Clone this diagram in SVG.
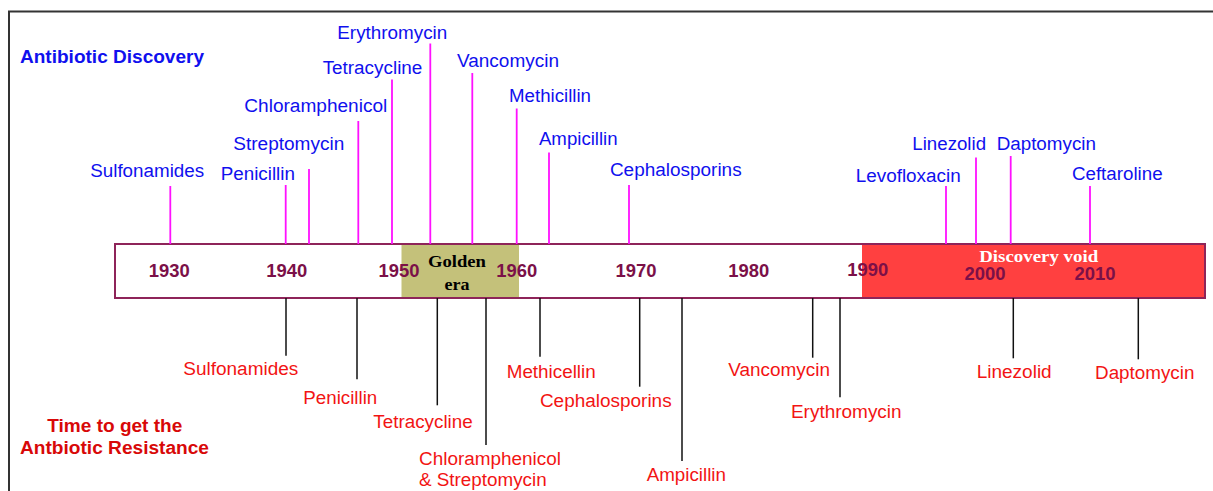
<svg xmlns="http://www.w3.org/2000/svg" width="1213" height="491" viewBox="0 0 1213 491">
<style>
.frame{fill:none;stroke:#333;stroke-width:2}
.bar{fill:none;stroke:#8e2459;stroke-width:2}
.yr{font-family:"Liberation Sans",Arial,sans-serif;font-weight:bold;font-size:17.5px;fill:#7b1048;text-anchor:middle}
.disc{font-family:"Liberation Sans",Arial,sans-serif;font-size:18px;fill:#1010ee;text-anchor:middle}
.res{font-family:"Liberation Sans",Arial,sans-serif;font-size:18px;fill:#f21414;text-anchor:middle}
.title{font-family:"Liberation Sans",Arial,sans-serif;font-weight:bold;font-size:18px}
.era{font-family:"Liberation Serif","Times New Roman",serif;font-weight:bold;font-size:17.5px;text-anchor:middle}
.up{stroke:#ff10ff;stroke-width:1.8}
.down{stroke:#111;stroke-width:1.5}
</style>
<g id="frame">
<line class="frame" x1="8" y1="11.5" x2="1213" y2="11.5"/>
<line class="frame" x1="9" y1="11" x2="9" y2="491"/>
</g>
<g id="timeline">
<rect x="115" y="244" width="1090" height="54" fill="#fff"/>
<rect id="golden-era-band" x="401.5" y="245" width="117.5" height="52" fill="#c4c17a"/>
<rect id="discovery-void-band" x="862" y="245" width="342" height="52" fill="#ff4040"/>
<rect class="bar" x="115" y="244" width="1090" height="54"/>
<text class="era" x="457" y="267" textLength="58" lengthAdjust="spacingAndGlyphs">Golden</text>
<text class="era" x="457" y="290" textLength="25" lengthAdjust="spacingAndGlyphs">era</text>
<text class="era" x="1038.7" y="262" fill="#fff" textLength="119" lengthAdjust="spacingAndGlyphs">Discovery void</text>
<text class="yr" x="169.2" y="276.7" textLength="41" lengthAdjust="spacingAndGlyphs">1930</text>
<text class="yr" x="286.7" y="276.7" textLength="41" lengthAdjust="spacingAndGlyphs">1940</text>
<text class="yr" x="399" y="276.7" textLength="41" lengthAdjust="spacingAndGlyphs">1950</text>
<text class="yr" x="516.7" y="276.7" textLength="41" lengthAdjust="spacingAndGlyphs">1960</text>
<text class="yr" x="636" y="276.7" textLength="41" lengthAdjust="spacingAndGlyphs">1970</text>
<text class="yr" x="748.7" y="276.7" textLength="41" lengthAdjust="spacingAndGlyphs">1980</text>
<text class="yr" x="867.7" y="276.3" textLength="41" lengthAdjust="spacingAndGlyphs">1990</text>
<text class="yr" x="985" y="280" textLength="41" lengthAdjust="spacingAndGlyphs">2000</text>
<text class="yr" x="1095" y="280" textLength="41" lengthAdjust="spacingAndGlyphs">2010</text>
</g>
<g id="connectors">
<line class="up" x1="170.3" y1="186" x2="170.3" y2="244"/>
<line class="up" x1="285.7" y1="185" x2="285.7" y2="244"/>
<line class="up" x1="309" y1="169" x2="309" y2="244"/>
<line class="up" x1="358.3" y1="121" x2="358.3" y2="244"/>
<line class="up" x1="392" y1="79.5" x2="392" y2="244"/>
<line class="up" x1="430.3" y1="43.5" x2="430.3" y2="244"/>
<line class="up" x1="472.3" y1="73" x2="472.3" y2="244"/>
<line class="up" x1="516.7" y1="108.5" x2="516.7" y2="244"/>
<line class="up" x1="549" y1="152.5" x2="549" y2="244"/>
<line class="up" x1="629" y1="185" x2="629" y2="244"/>
<line class="up" x1="946" y1="186" x2="946" y2="244"/>
<line class="up" x1="976" y1="157.5" x2="976" y2="244"/>
<line class="up" x1="1010.7" y1="156" x2="1010.7" y2="244"/>
<line class="up" x1="1090" y1="186" x2="1090" y2="244"/>
<line class="down" x1="286" y1="298" x2="286" y2="355.7"/>
<line class="down" x1="357" y1="298" x2="357" y2="379.3"/>
<line class="down" x1="437.3" y1="298" x2="437.3" y2="405.3"/>
<line class="down" x1="486" y1="298" x2="486" y2="445"/>
<line class="down" x1="540" y1="298" x2="540" y2="356.7"/>
<line class="down" x1="639.7" y1="298" x2="639.7" y2="386.7"/>
<line class="down" x1="682" y1="298" x2="682" y2="461"/>
<line class="down" x1="812.7" y1="298" x2="812.7" y2="357.7"/>
<line class="down" x1="840" y1="298" x2="840" y2="397.3"/>
<line class="down" x1="1013.3" y1="298" x2="1013.3" y2="358.3"/>
<line class="down" x1="1138.3" y1="298" x2="1138.3" y2="359.3"/>
</g>
<g id="title-discovery"><text class="title" x="20" y="63.3" fill="#1010ee" textLength="184" lengthAdjust="spacingAndGlyphs">Antibiotic Discovery</text></g>
<g id="title-resistance">
<text class="title" x="47.3" y="432.3" fill="#d80808" textLength="135" lengthAdjust="spacingAndGlyphs">Time to get the</text>
<text class="title" x="20" y="454.3" fill="#d80808" textLength="189" lengthAdjust="spacingAndGlyphs">Antbiotic Resistance</text>
</g>
<g id="disc-sulfonamides"><text class="disc" x="147.2" y="177" textLength="114" lengthAdjust="spacingAndGlyphs">Sulfonamides</text></g>
<g id="disc-penicillin"><text class="disc" x="257.8" y="180" textLength="74.3" lengthAdjust="spacingAndGlyphs">Penicillin</text></g>
<g id="disc-streptomycin"><text class="disc" x="288.8" y="150" textLength="111" lengthAdjust="spacingAndGlyphs">Streptomycin</text></g>
<g id="disc-chloramphenicol"><text class="disc" x="315.8" y="111.7" textLength="143" lengthAdjust="spacingAndGlyphs">Chloramphenicol</text></g>
<g id="disc-tetracycline"><text class="disc" x="372.5" y="74.3" textLength="99.7" lengthAdjust="spacingAndGlyphs">Tetracycline</text></g>
<g id="disc-erythromycin"><text class="disc" x="392.3" y="39.3" textLength="110" lengthAdjust="spacingAndGlyphs">Erythromycin</text></g>
<g id="disc-vancomycin"><text class="disc" x="508" y="66.7" textLength="102" lengthAdjust="spacingAndGlyphs">Vancomycin</text></g>
<g id="disc-methicillin"><text class="disc" x="550" y="102.3" textLength="82" lengthAdjust="spacingAndGlyphs">Methicillin</text></g>
<g id="disc-ampicillin"><text class="disc" x="578.3" y="145" textLength="78.7" lengthAdjust="spacingAndGlyphs">Ampicillin</text></g>
<g id="disc-cephalosporins"><text class="disc" x="675.8" y="175.7" textLength="131.7" lengthAdjust="spacingAndGlyphs">Cephalosporins</text></g>
<g id="disc-levofloxacin"><text class="disc" x="908.2" y="182.3" textLength="105" lengthAdjust="spacingAndGlyphs">Levofloxacin</text></g>
<g id="disc-linezolid"><text class="disc" x="949.2" y="150" textLength="73.7" lengthAdjust="spacingAndGlyphs">Linezolid</text></g>
<g id="disc-daptomycin"><text class="disc" x="1046.3" y="150" textLength="99.3" lengthAdjust="spacingAndGlyphs">Daptomycin</text></g>
<g id="disc-ceftaroline"><text class="disc" x="1117.3" y="180" textLength="90.7" lengthAdjust="spacingAndGlyphs">Ceftaroline</text></g>
<g id="res-sulfonamides"><text class="res" x="240.8" y="375" textLength="115" lengthAdjust="spacingAndGlyphs">Sulfonamides</text></g>
<g id="res-penicillin"><text class="res" x="340.3" y="404" textLength="74" lengthAdjust="spacingAndGlyphs">Penicillin</text></g>
<g id="res-tetracycline"><text class="res" x="423" y="427.7" textLength="99.4" lengthAdjust="spacingAndGlyphs">Tetracycline</text></g>
<g id="res-chloramphenicol-streptomycin">
<text class="res" x="419" y="465" style="text-anchor:start" textLength="142" lengthAdjust="spacingAndGlyphs">Chloramphenicol</text>
<text class="res" x="419" y="486" style="text-anchor:start" textLength="127.7" lengthAdjust="spacingAndGlyphs">&amp; Streptomycin</text>
</g>
<g id="res-methicellin"><text class="res" x="551.2" y="377.7" textLength="89" lengthAdjust="spacingAndGlyphs">Methicellin</text></g>
<g id="res-cephalosporins"><text class="res" x="605.8" y="407.3" textLength="131.7" lengthAdjust="spacingAndGlyphs">Cephalosporins</text></g>
<g id="res-ampicillin"><text class="res" x="686.3" y="481" textLength="79.3" lengthAdjust="spacingAndGlyphs">Ampicillin</text></g>
<g id="res-vancomycin"><text class="res" x="779.2" y="376" textLength="101.7" lengthAdjust="spacingAndGlyphs">Vancomycin</text></g>
<g id="res-erythromycin"><text class="res" x="846.3" y="418.3" textLength="110.7" lengthAdjust="spacingAndGlyphs">Erythromycin</text></g>
<g id="res-linezolid"><text class="res" x="1014.2" y="377.7" textLength="75" lengthAdjust="spacingAndGlyphs">Linezolid</text></g>
<g id="res-daptomycin"><text class="res" x="1144.7" y="379.3" textLength="99.3" lengthAdjust="spacingAndGlyphs">Daptomycin</text></g>
</svg>
